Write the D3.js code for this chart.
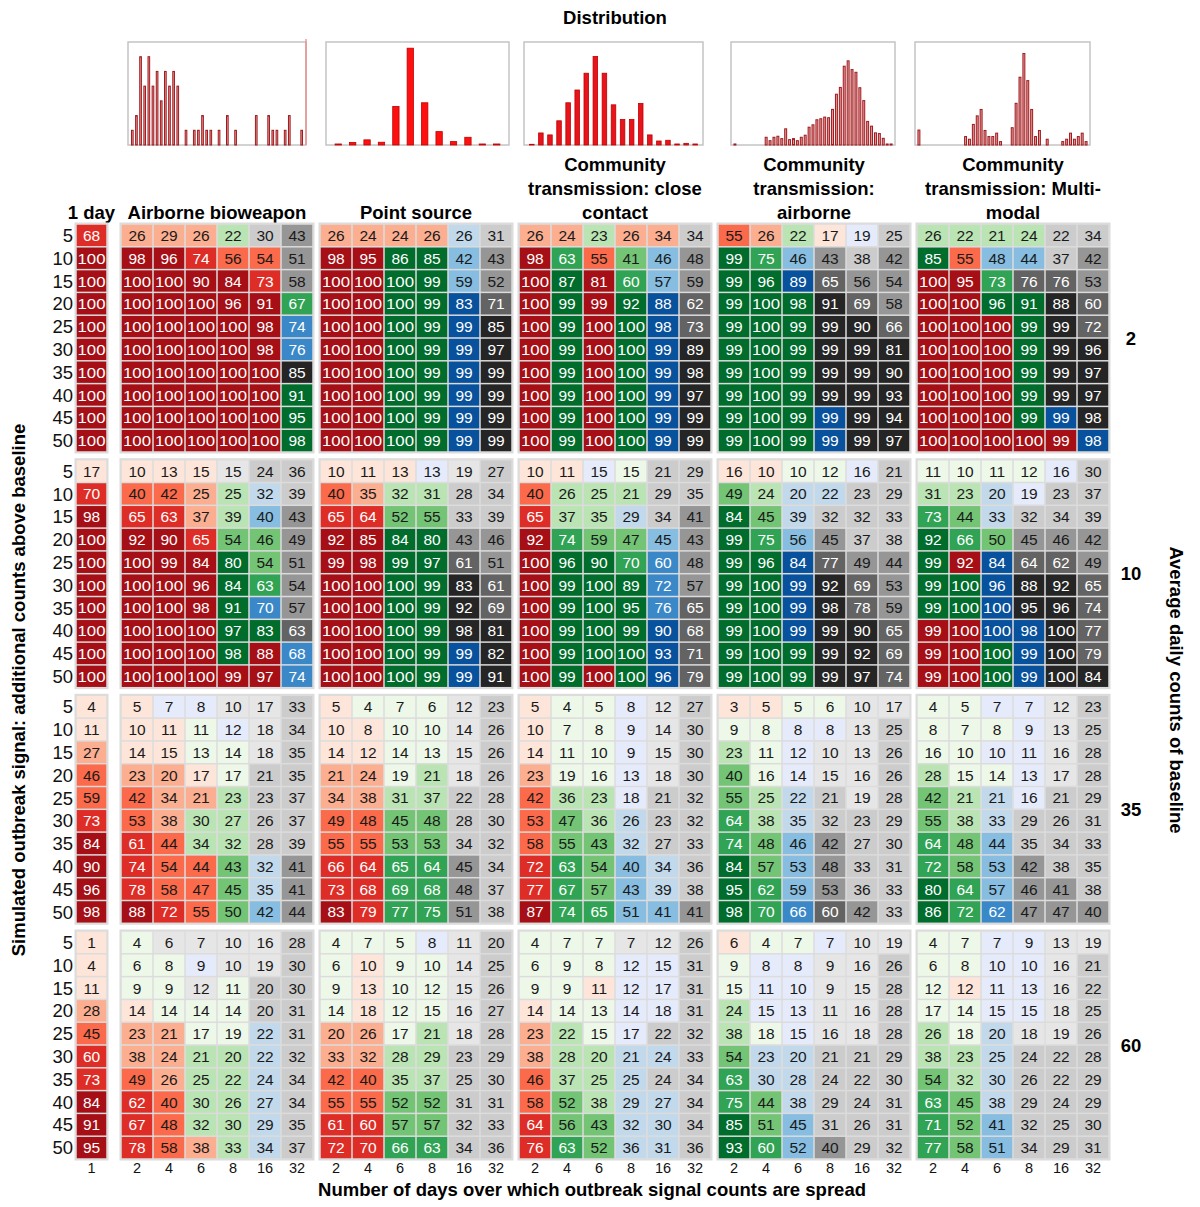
<!DOCTYPE html>
<html><head><meta charset="utf-8">
<script src="https://cdn.jsdelivr.net/npm/d3@7"></script>
<style>body{margin:0;background:#fff} svg{font-family:"Liberation Sans",Arial,sans-serif}</style>
</head><body><svg id="c" width="1200" height="1207"></svg>
<script>
// ---------------- DATA ----------------
const groupTitles = [["1 day"],["Airborne bioweapon"],["Point source"],["Community","transmission: close","contact"],["Community","transmission:","airborne"],["Community","transmission: Multi-","modal"]];
const oneDayTicks = [1];
const dayTicks = [2,4,6,8,16,32];
const signalRows = [5,10,15,20,25,30,35,40,45,50];
const baselines = [2,10,35,60];

// each row: 1-day, then 6 values for each of the 5 outbreak types
const values2 = [
[68, 26,29,26,22,30,43, 26,24,24,26,26,31, 26,24,23,26,34,34, 55,26,22,17,19,25, 26,22,21,24,22,34],
[100, 98,96,74,56,54,51, 98,95,86,85,42,43, 98,63,55,41,46,48, 99,75,46,43,38,42, 85,55,48,44,37,42],
[100, 100,100,90,84,73,58, 100,100,100,99,59,52, 100,87,81,60,57,59, 99,96,89,65,56,54, 100,95,73,76,76,53],
[100, 100,100,100,96,91,67, 100,100,100,99,83,71, 100,99,99,92,88,62, 99,100,98,91,69,58, 100,100,96,91,88,60],
[100, 100,100,100,100,98,74, 100,100,100,99,99,85, 100,99,100,100,98,73, 99,100,99,99,90,66, 100,100,100,99,99,72],
[100, 100,100,100,100,98,76, 100,100,100,99,99,97, 100,99,100,100,99,89, 99,100,99,99,99,81, 100,100,100,99,99,96],
[100, 100,100,100,100,100,85, 100,100,100,99,99,99, 100,99,100,100,99,98, 99,100,99,99,99,90, 100,100,100,99,99,97],
[100, 100,100,100,100,100,91, 100,100,100,99,99,99, 100,99,100,100,99,97, 99,100,99,99,99,93, 100,100,100,99,99,97],
[100, 100,100,100,100,100,95, 100,100,100,99,99,99, 100,99,100,100,99,99, 99,100,99,99,99,94, 100,100,100,99,99,98],
[100, 100,100,100,100,100,98, 100,100,100,99,99,99, 100,99,100,100,99,99, 99,100,99,99,99,97, 100,100,100,100,99,98]];
const values10 = [
[17, 10,13,15,15,24,36, 10,11,13,13,19,27, 10,11,15,15,21,29, 16,10,10,12,16,21, 11,10,11,12,16,30],
[70, 40,42,25,25,32,39, 40,35,32,31,28,34, 40,26,25,21,29,35, 49,24,20,22,23,29, 31,23,20,19,23,37],
[98, 65,63,37,39,40,43, 65,64,52,55,33,39, 65,37,35,29,34,41, 84,45,39,32,32,33, 73,44,33,32,34,39],
[100, 92,90,65,54,46,49, 92,85,84,80,43,46, 92,74,59,47,45,43, 99,75,56,45,37,38, 92,66,50,45,46,42],
[100, 100,99,84,80,54,51, 99,98,99,97,61,51, 100,96,90,70,60,48, 99,96,84,77,49,44, 99,92,84,64,62,49],
[100, 100,100,96,84,63,54, 100,100,100,99,83,61, 100,99,100,89,72,57, 99,100,99,92,69,53, 99,100,96,88,92,65],
[100, 100,100,98,91,70,57, 100,100,100,99,92,69, 100,99,100,95,76,65, 99,100,99,98,78,59, 99,100,100,95,96,74],
[100, 100,100,100,97,83,63, 100,100,100,99,98,81, 100,99,100,99,90,68, 99,100,99,99,90,65, 99,100,100,98,100,77],
[100, 100,100,100,98,88,68, 100,100,100,99,99,82, 100,99,100,100,93,71, 99,100,99,99,92,69, 99,100,100,99,100,79],
[100, 100,100,100,99,97,74, 100,100,100,99,99,91, 100,99,100,100,96,79, 99,100,99,99,97,74, 99,100,100,99,100,84]];
const values35 = [
[4, 5,7,8,10,17,33, 5,4,7,6,12,23, 5,4,5,8,12,27, 3,5,5,6,10,17, 4,5,7,7,12,23],
[11, 10,11,11,12,18,34, 10,8,10,10,14,26, 10,7,8,9,14,30, 9,8,8,8,13,25, 8,7,8,9,13,25],
[27, 14,15,13,14,18,35, 14,12,14,13,15,26, 14,11,10,9,15,30, 23,11,12,10,13,26, 16,10,10,11,16,28],
[46, 23,20,17,17,21,35, 21,24,19,21,18,26, 23,19,16,13,18,30, 40,16,14,15,16,26, 28,15,14,13,17,28],
[59, 42,34,21,23,23,37, 34,38,31,37,22,28, 42,36,23,18,21,32, 55,25,22,21,19,28, 42,21,21,16,21,29],
[73, 53,38,30,27,26,37, 49,48,45,48,28,30, 53,47,36,26,23,32, 64,38,35,32,23,29, 55,38,33,29,26,31],
[84, 61,44,34,32,28,39, 55,55,53,53,34,32, 58,55,43,32,27,33, 74,48,46,42,27,30, 64,48,44,35,34,33],
[90, 74,54,44,43,32,41, 66,64,65,64,45,34, 72,63,54,40,34,36, 84,57,53,48,33,31, 72,58,53,42,38,35],
[96, 78,58,47,45,35,41, 73,68,69,68,48,37, 77,67,57,43,39,38, 95,62,59,53,36,33, 80,64,57,46,41,38],
[98, 88,72,55,50,42,44, 83,79,77,75,51,38, 87,74,65,51,41,41, 98,70,66,60,42,33, 86,72,62,47,47,40]];
const values60 = [
[1, 4,6,7,10,16,28, 4,7,5,8,11,20, 4,7,7,7,12,26, 6,4,7,7,10,19, 4,7,7,9,13,19],
[4, 6,8,9,10,19,30, 6,10,9,10,14,25, 6,9,8,12,15,31, 9,8,8,9,16,26, 6,8,10,10,16,21],
[11, 9,9,12,11,20,30, 9,13,10,12,15,26, 9,9,11,12,17,31, 15,11,10,9,15,28, 12,12,11,13,16,22],
[28, 14,14,14,14,20,31, 14,18,12,15,16,27, 14,14,13,14,18,31, 24,15,13,11,16,28, 17,14,15,15,18,25],
[45, 23,21,17,19,22,31, 20,26,17,21,18,28, 23,22,15,17,22,32, 38,18,15,16,18,28, 26,18,20,18,19,26],
[60, 38,24,21,20,22,32, 33,32,28,29,23,29, 38,28,20,21,24,33, 54,23,20,21,21,29, 38,23,25,24,22,28],
[73, 49,26,25,22,24,34, 42,40,35,37,25,30, 46,37,25,25,24,34, 63,30,28,24,22,30, 54,32,30,26,22,29],
[84, 62,40,30,26,27,34, 55,55,52,52,31,31, 58,52,38,29,27,34, 75,44,38,29,24,31, 63,45,38,29,24,29],
[91, 67,48,32,30,29,35, 61,60,57,57,32,33, 64,56,43,32,30,34, 85,51,45,31,26,31, 71,52,41,32,25,30],
[95, 78,58,38,33,34,37, 72,70,66,63,34,36, 76,63,52,36,31,36, 93,60,52,40,29,32, 77,58,51,34,29,31]];

// colour family of each cell: R red, G green, B blue, K grey
const hues2 = [
"R RRRGKK RRRRBK RRGRRK RRGRBK GGGGKK","R RRRRRK RRGGBK RGRGBK GGBKKK GRBBKK",
"R RRRRRK RRGGBK RGRGBK GGBKKK RRGKKK","R RRRRRG RRGGBK RGRGBK GGGKKK RRGGKK",
"R RRRRRB RRGGBK RGRGBK GGGKKK RRRGKK","R RRRRRB RRGGBK RGRGBK GGGKKK RRRGKK",
"R RRRRRK RRGGBK RGRGBK GGGKKK RRRGKK","R RRRRRG RRGGBK RGRGBK GGGKKK RRRGKK",
"R RRRRRG RRGGBK RGRGBK GGGBKK RRRGBK","R RRRRRG RRGGBK RGRGBK GGGBKK RRRRRB"];
const hues10 = [
"R RRRKKK RRRBKK RRBGKK RRGGBK GGGGBK","R RRRGBK RRGGKK RGGGKK GGBBKK GGBBKK",
"R RRRGBK RRGGKK RGGBKK GGBKKK GGBKKK","R RRRGGK RRGGKK RGGGBK GGBKKK GGGKKK",
"R RRRGGK RRGGKK RGGGBK GGBKKK GRBKKK","R RRRGGK RRGGKK RGGGBK GGBKKK GGBKKK",
"R RRRGBK RRGGKK RGGGBK GGBKKK GGBKKK","R RRRGGK RRGGKK RGGGBK GGBKKK RRBBKK",
"R RRRGRB RRGGBK RGGGBK GGGKKK RRGBKK","R RRRRRB RRGGBK RGRGBK GGGKKK RRGBKK"];
const hues35 = [
"R RBBKKK RGGGKK RGGBKK RRGGKK GGBBKK","R RRGBKK RRGGKK RGGBKK GGBBKK GGGBKK",
"R RRGGKK RRGGKK RGGBKK GGBKKK GGBBKK","R RRRGKK RRGGKK RGGBKK GGBKKK GGGBKK",
"R RRRGKK RRGGKK RGGBKK GGBKKK GGBBKK","R RRGGKK RRGGKK RGGBKK GGBKKK GGBKKK",
"R RRGGKK RRGGKK RGGBKK GGBKKK GGBKKK","R RRRGBK RRGGKK RGGBBK GGBKKK GGBKKK",
"R RRRGBK RRGGKK RGGBBK GGBKKK GGBKKK","R RRRGBK RRGGKK RGGBBK GGBKKK GGBKKK"];
const hues60 = [
"R GKKKKK GGGBKK GGGKKK RGGBKK GGBBKK","R GGBKKK GRGGKK GGGBBK GBBKKK GGBBKK",
"R GGKGKK GRGGKK GGRBBK GBBKKK GRBBKK","R RGGGKK GRGGKK RGGBBK GBBKKK GGBBKK",
"R RRGGBK RRGGKK RGGBKK GGBKKK GGBKKK","R RRGGBK RRGGKK RGGBBK GBBKKK GGBKKK",
"R RRGGBK RRGGKK RGGBKK GBBKKK GGBKKK","R RRGGBK RRGGKK RGGBBK GGBKKK GGBKKK",
"R RRGGBK RRGGKK RGGBBK GGBKKK GGBKKK","R RRRGBK RRGGKK RGGBBK GGBKKK GGBKKK"];

// distribution histograms (relative heights)
const hist1 = [1,2,6,4,6,4,5,3,5,4,5,4,0,1,0,1,1,2,1,1,0,1,0,2,0,1,0,0,0,0,2,0,0,2,1,1,0,1,2,0,0,1];
const hist2 = [1,2.5,5,2.7,37.5,94,41,13,3.3,7.5,1,1];
const hist3 = [0.7,11.7,9.8,23.5,41,53.4,69.7,86,69.7,39,24.8,24.8,40.4,9.8,3.9,4.6,1,1.6,1];
const hist4 = [1,0,0,0,0,0,0,0,7.5,4.2,7.5,8.5,6.2,15.7,5.2,6.2,4.2,7.5,9.5,17.3,19.6,24.5,25.5,27.1,26.5,34.6,49.3,55.9,76.5,81.7,73.2,70.6,55.6,43.1,22.9,18.3,11.8,11.1,6.5,1,1];
const hist5 = [14.5,0,0,0,0,0,0,0,0,0,0,0,8.2,5.6,20,28.3,34.5,14.1,8.2,8.2,11.5,3.3,0,0,16.8,40.5,65.8,88.8,62.5,34.5,8.2,14.1,0,5.6,0,0,0,3.3,5.6,11.5,5.6,8.2,11.5,3.3];

// ---------------- DRAW ----------------
const svg = d3.select("#c");
const palettes = {
  R: ["#fee5d9","#fcae91","#fb6a4a","#de2d26","#a50f15"],
  G: ["#edf8e9","#bae4b3","#74c476","#31a354","#006d2c"],
  B: ["#e6ebfc","#c2d9ec","#86bde0","#3a88c8","#08519c"],
  K: ["#e6e6e6","#cccccc","#969696","#636363","#252525"]
};
const bin = d3.scaleThreshold().domain([20,40,60,80]).range([0,1,2,3,4]);
const titleSize = 18.5;

const groupX = [[76,107],[121,313],[320,512],[519,711],[718,910],[917,1109]];
const xScales = groupX.map((r,i) => d3.scaleBand().domain(i===0 ? oneDayTicks : dayTicks).range(r));
const panelTop = [224, 459.7, 695.3, 931];
const panelH = 228;
const yScales = panelTop.map(t => d3.scaleBand().domain(signalRows).range([t, t+panelH]));

const allValues = [values2, values10, values35, values60];
const allHues = [hues2, hues10, hues35, hues60].map(p => p.map(s => s.replace(/ /g,"")));

// titles
svg.append("text").attr("x",615).attr("y",24).attr("text-anchor","middle")
  .attr("font-weight","bold").attr("font-size",titleSize).text("Distribution");
groupTitles.forEach((lines,i) => {
  const cx = (groupX[i][0]+groupX[i][1])/2;
  lines.forEach((ln,j) => {
    svg.append("text").attr("x",cx).attr("y",219 - (lines.length-1-j)*24)
      .attr("text-anchor","middle").attr("font-weight","bold").attr("font-size",titleSize).text(ln);
  });
});

// histograms
const hists = [hist1,hist2,hist3,hist4,hist5];
const histBox = [[128,306],[326,509],[524,703],[731,895],[915,1090]];
const histPad = [0.6,0.56,0.5,0.5,0.5];
const histMax = [7,100,100,100,100];
const hTop = 42, hBot = 145;
hists.forEach((h,i) => {
  const [x0,x1] = histBox[i];
  const xs = d3.scaleBand().domain(d3.range(h.length)).range([x0+1,x1-1]).padding(histPad[i]);
  const ys = d3.scaleLinear().domain([0,histMax[i]]).range([hBot,hTop]);
  const g = svg.append("g");
  g.append("rect").attr("x",x0).attr("y",hTop).attr("width",x1-x0).attr("height",hBot-hTop)
    .attr("fill","#fff").attr("stroke","#c4c4c4").attr("stroke-width",1.5);
  const thin = (i===0||i>=3);
  g.selectAll("rect.b").data(h.map((v,k)=>({v,k})).filter(d=>d.v>0)).join("rect").attr("class","b")
    .attr("x",d=>xs(d.k)).attr("width",xs.bandwidth())
    .attr("y",d=>ys(d.v)).attr("height",d=>hBot-ys(d.v))
    .attr("fill", thin ? "#e79a9a" : (i===1 ? "#ff1010" : "#e8141b"))
    .attr("stroke", thin ? "#9e1a1e" : "#c00000").attr("stroke-width", thin ? 1 : 0.8);
  if (i===0) g.append("line").attr("x1",x1).attr("x2",x1).attr("y1",hTop-3).attr("y2",hBot)
    .attr("stroke","#f08080").attr("stroke-width",1.2);
});

// heatmaps
allValues.forEach((vals,p) => {
  const ys = yScales[p];
  const g = svg.append("g");
  // row labels
  g.selectAll("text.rl").data(signalRows).join("text").attr("class","rl")
    .attr("x",73).attr("y",d=>ys(d)+ys.bandwidth()/2).attr("dy","0.36em")
    .attr("text-anchor","end").attr("font-size",18.5).attr("fill","#111").text(d=>d);
  // group backgrounds
  groupX.forEach(r => {
    g.append("rect").attr("x",r[0]-1.5).attr("y",panelTop[p]-1.5)
      .attr("width",r[1]-r[0]+3).attr("height",panelH+3).attr("fill","#dcdcdc");
  });
  const cells = [];
  vals.forEach((row,ri) => {
    row.forEach((v,ci) => {
      const gi = ci===0 ? 0 : Math.floor((ci-1)/6)+1;
      const day = ci===0 ? 1 : dayTicks[(ci-1)%6];
      cells.push({v, gi, day, sig: signalRows[ri], hue: allHues[p][ri][ci]});
    });
  });
  const cg = g.selectAll("g.cell").data(cells).join("g").attr("class","cell");
  cg.append("rect")
    .attr("x",d=>xScales[d.gi](d.day)+0.75).attr("y",d=>ys(d.sig)+0.75)
    .attr("width",d=>xScales[d.gi].bandwidth()-1.5).attr("height",ys.bandwidth()-1.5)
    .attr("fill",d=>palettes[d.hue][bin(d.v)]);
  cg.append("text")
    .attr("x",d=>xScales[d.gi](d.day)+xScales[d.gi].bandwidth()/2)
    .attr("y",d=>ys(d.sig)+ys.bandwidth()/2).attr("dy","0.36em")
    .attr("text-anchor","middle").attr("font-size",15.5)
    .attr("textLength",d=>d.v>=100 ? 28 : null).attr("lengthAdjust","spacingAndGlyphs")
    .attr("fill",d=>bin(d.v)>=3 ? "#fff" : "#1a1a1a").text(d=>d.v);
  // right baseline label
  svg.append("text").attr("x",1131).attr("y",panelTop[p]+panelH/2).attr("dy","0.36em")
    .attr("text-anchor","middle").attr("font-weight","bold").attr("font-size",titleSize).text(baselines[p]);
});

// x tick labels
xScales.forEach(xs => {
  svg.append("g").selectAll("text").data(xs.domain()).join("text")
    .attr("x",d=>xs(d)+xs.bandwidth()/2).attr("y",1168).attr("dy","0.36em")
    .attr("text-anchor","middle").attr("font-size",14.5).attr("fill","#111").text(d=>d);
});

// axis titles
svg.append("text").attr("x",592).attr("y",1196).attr("text-anchor","middle")
  .attr("font-weight","bold").attr("font-size",titleSize).text("Number of days over which outbreak signal counts are spread");
svg.append("text").attr("transform","translate(25,690) rotate(-90)").attr("text-anchor","middle")
  .attr("font-weight","bold").attr("font-size",titleSize).text("Simulated outbreak signal: additional counts above baseline");
svg.append("text").attr("transform","translate(1170,690) rotate(90)").attr("text-anchor","middle")
  .attr("font-weight","bold").attr("font-size",titleSize).text("Average daily counts of baseline");
</script></body></html>
